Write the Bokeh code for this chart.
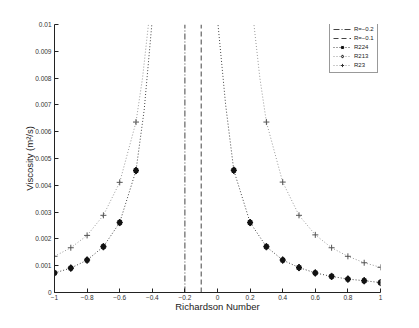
from bokeh.plotting import figure
from bokeh.models import Range1d, FixedTicker, CustomJSTickFormatter, Legend, LegendItem
from bokeh.embed import file_html
from bokeh.resources import INLINE

# ---- data ----
ri_left = [-1.0, -0.9, -0.8, -0.7, -0.6, -0.5]
ri_right = [0.1, 0.2, 0.3, 0.4, 0.5, 0.6, 0.7, 0.8, 0.9, 1.0]
ri_right23 = [0.3, 0.4, 0.5, 0.6, 0.7, 0.8, 0.9, 1.0]

r224_left = [0.00073, 0.00091, 0.00121, 0.00171, 0.00261, 0.00455]
r224_right = [0.00456, 0.00261, 0.00171, 0.00121, 0.00093, 0.00073, 0.00060, 0.00050, 0.00044, 0.00037]
r213_left = r224_left
r213_right = r224_right
r23_left = [0.00135, 0.00167, 0.00213, 0.00288, 0.00411, 0.00636]
r23_right = [0.00636, 0.00412, 0.00288, 0.00215, 0.00167, 0.00135, 0.00111, 0.00094]

# curve continuation towards the singularities
r224_left_tail_x = [-0.45, -0.40]
r224_left_tail_y = [0.0068, 0.0102]
r224_right_tail_x = [0.0, 0.05]
r224_right_tail_y = [0.0102, 0.0070]
r23_left_tail_x = [-0.46, -0.42]
r23_left_tail_y = [0.0080, 0.0102]
r23_right_tail_x = [0.22, 0.26]
r23_right_tail_y = [0.0102, 0.0080]

ri_crit = [-0.2, -0.1]
crit_labels = ["R=\u22120.2", "R=\u22120.1"]

x_ticks = [-1, -0.8, -0.6, -0.4, -0.2, 0, 0.2, 0.4, 0.6, 0.8, 1]
x_labels = ["\u22121", "\u22120.8", "\u22120.6", "\u22120.4", "\u22120.2", "0", "0.2", "0.4", "0.6", "0.8", "1"]
y_ticks = [0, 0.001, 0.002, 0.003, 0.004, 0.005, 0.006, 0.007, 0.008, 0.009, 0.01]
y_labels = ["0", "0.001", "0.002", "0.003", "0.004", "0.005", "0.006", "0.007", "0.008", "0.009", "0.01"]
x_lim = [-1, 1]
y_lim = [0, 0.01]

FONT = "Liberation Sans"

p = figure(width=411, height=320, output_backend="svg", toolbar_location=None,
           x_range=Range1d(*x_lim), y_range=Range1d(*y_lim),
           min_border_left=54, min_border_right=31, min_border_top=24, min_border_bottom=28)
p.outline_line_color = None
p.grid.visible = False
p.background_fill_color = "white"
p.border_fill_color = "white"

lab_js = """
let best = 0; let bd = 1e9;
for (let i = 0; i < tv.length; i++) { const d = Math.abs(tv[i] - tick); if (d < bd) { bd = d; best = i; } }
return lv[best];
"""
p.xaxis.ticker = FixedTicker(ticks=x_ticks)
p.xaxis.formatter = CustomJSTickFormatter(args=dict(tv=x_ticks, lv=x_labels), code=lab_js)
p.yaxis.ticker = FixedTicker(ticks=y_ticks)
p.yaxis.formatter = CustomJSTickFormatter(args=dict(tv=y_ticks, lv=y_labels), code=lab_js)

for ax in (p.xaxis[0], p.yaxis[0]):
    ax.major_tick_in = 4
    ax.major_tick_out = 0
    ax.minor_tick_in = 0
    ax.minor_tick_out = 0
    ax.axis_line_color = "#222222"
    ax.major_tick_line_color = "#222222"
    ax.major_label_text_font = FONT
    ax.major_label_text_font_size = "6.5px"
    ax.major_label_text_color = "#333333"
    ax.axis_label_text_font = FONT
    ax.axis_label_text_font_style = "normal"
    ax.axis_label_text_color = "#222222"
    ax.axis_label_text_font_size = "9.5px"

p.xaxis.major_label_standoff = 2
p.xaxis.axis_label_standoff = -2
p.yaxis.major_label_standoff = 3
p.yaxis.axis_label_standoff = -3

p.xaxis.axis_label = "Richardson Number"
p.yaxis.axis_label = "Viscosity (m\u00b2/s)"

# critical lines
crit1 = p.line([ri_crit[0], ri_crit[0]], y_lim, line_color="#444444", line_width=1, line_dash="6 2 1 2")
crit2 = p.line([ri_crit[1], ri_crit[1]], y_lim, line_color="#444444", line_width=1, line_dash="5 3")

# curves
def curve(xl, yl, xr, yr, txl, tyl, txr, tyr, color):
    a = p.line(xl + txl, yl + tyl, line_color=color, line_width=1, line_dash="1 2")
    b = p.line(txr + xr, tyr + yr, line_color=color, line_width=1, line_dash="1 2")
    return a, b

l224a, l224b = curve(ri_left, r224_left, ri_right, r224_right,
                     r224_left_tail_x, r224_left_tail_y, r224_right_tail_x, r224_right_tail_y, "#444444")
l23a, l23b = curve(ri_left, r23_left, ri_right23, r23_right,
                   r23_left_tail_x, r23_left_tail_y, r23_right_tail_x, r23_right_tail_y, "#999999")

m213a = p.scatter(ri_left, r213_left, marker="diamond", size=7, fill_color=None, line_color="#111111", line_width=1)
m213b = p.scatter(ri_right, r213_right, marker="diamond", size=7, fill_color=None, line_color="#111111", line_width=1)
m224a = p.scatter(ri_left, r224_left, marker="asterisk", size=6, line_color="#111111", line_width=1.6)
m224b = p.scatter(ri_right, r224_right, marker="asterisk", size=6, line_color="#111111", line_width=1.6)
m23a = p.scatter(ri_left, r23_left, marker="cross", size=6, line_color="#555555", line_width=1)
m23b = p.scatter(ri_right23, r23_right, marker="cross", size=6, line_color="#555555", line_width=1)

# legend-only samples (hidden renderers carrying the same series)
lg224 = p.line(ri_left, r224_left, line_color="#444444", line_dash="1 2", visible=False)
lg213 = p.line(ri_left, r213_left, line_color="#999999", line_dash="1 2", visible=False)
lg23 = p.line(ri_left, r23_left, line_color="#999999", line_dash="1 2", visible=False)
lgm224 = p.scatter(ri_left, r224_left, marker="asterisk", size=5, line_color="#111111", line_width=1.4, visible=False)
lgm213 = p.scatter(ri_left, r213_left, marker="diamond", size=6, fill_color=None, line_color="#111111", visible=False)
lgm23 = p.scatter(ri_left, r23_left, marker="cross", size=6, line_color="#333333", visible=False)

legend = Legend(items=[
    LegendItem(label=crit_labels[0], renderers=[crit1]),
    LegendItem(label=crit_labels[1], renderers=[crit2]),
    LegendItem(label="R224", renderers=[lg224, lgm224]),
    LegendItem(label="R213", renderers=[lg213, lgm213]),
    LegendItem(label="R23", renderers=[lg23, lgm23]),
], location=(275, 219))
legend.label_text_font = FONT
legend.label_text_font_size = "6px"
legend.label_text_color = "#222222"
legend.label_height = 8
legend.glyph_height = 8
legend.glyph_width = 18
legend.spacing = 1
legend.padding = 3
legend.margin = 0
legend.label_standoff = 3
legend.border_line_color = "#333333"
legend.border_line_width = 1
legend.background_fill_alpha = 1
p.add_layout(legend, "center")

open("out.html", "w").write(file_html(p, INLINE))
